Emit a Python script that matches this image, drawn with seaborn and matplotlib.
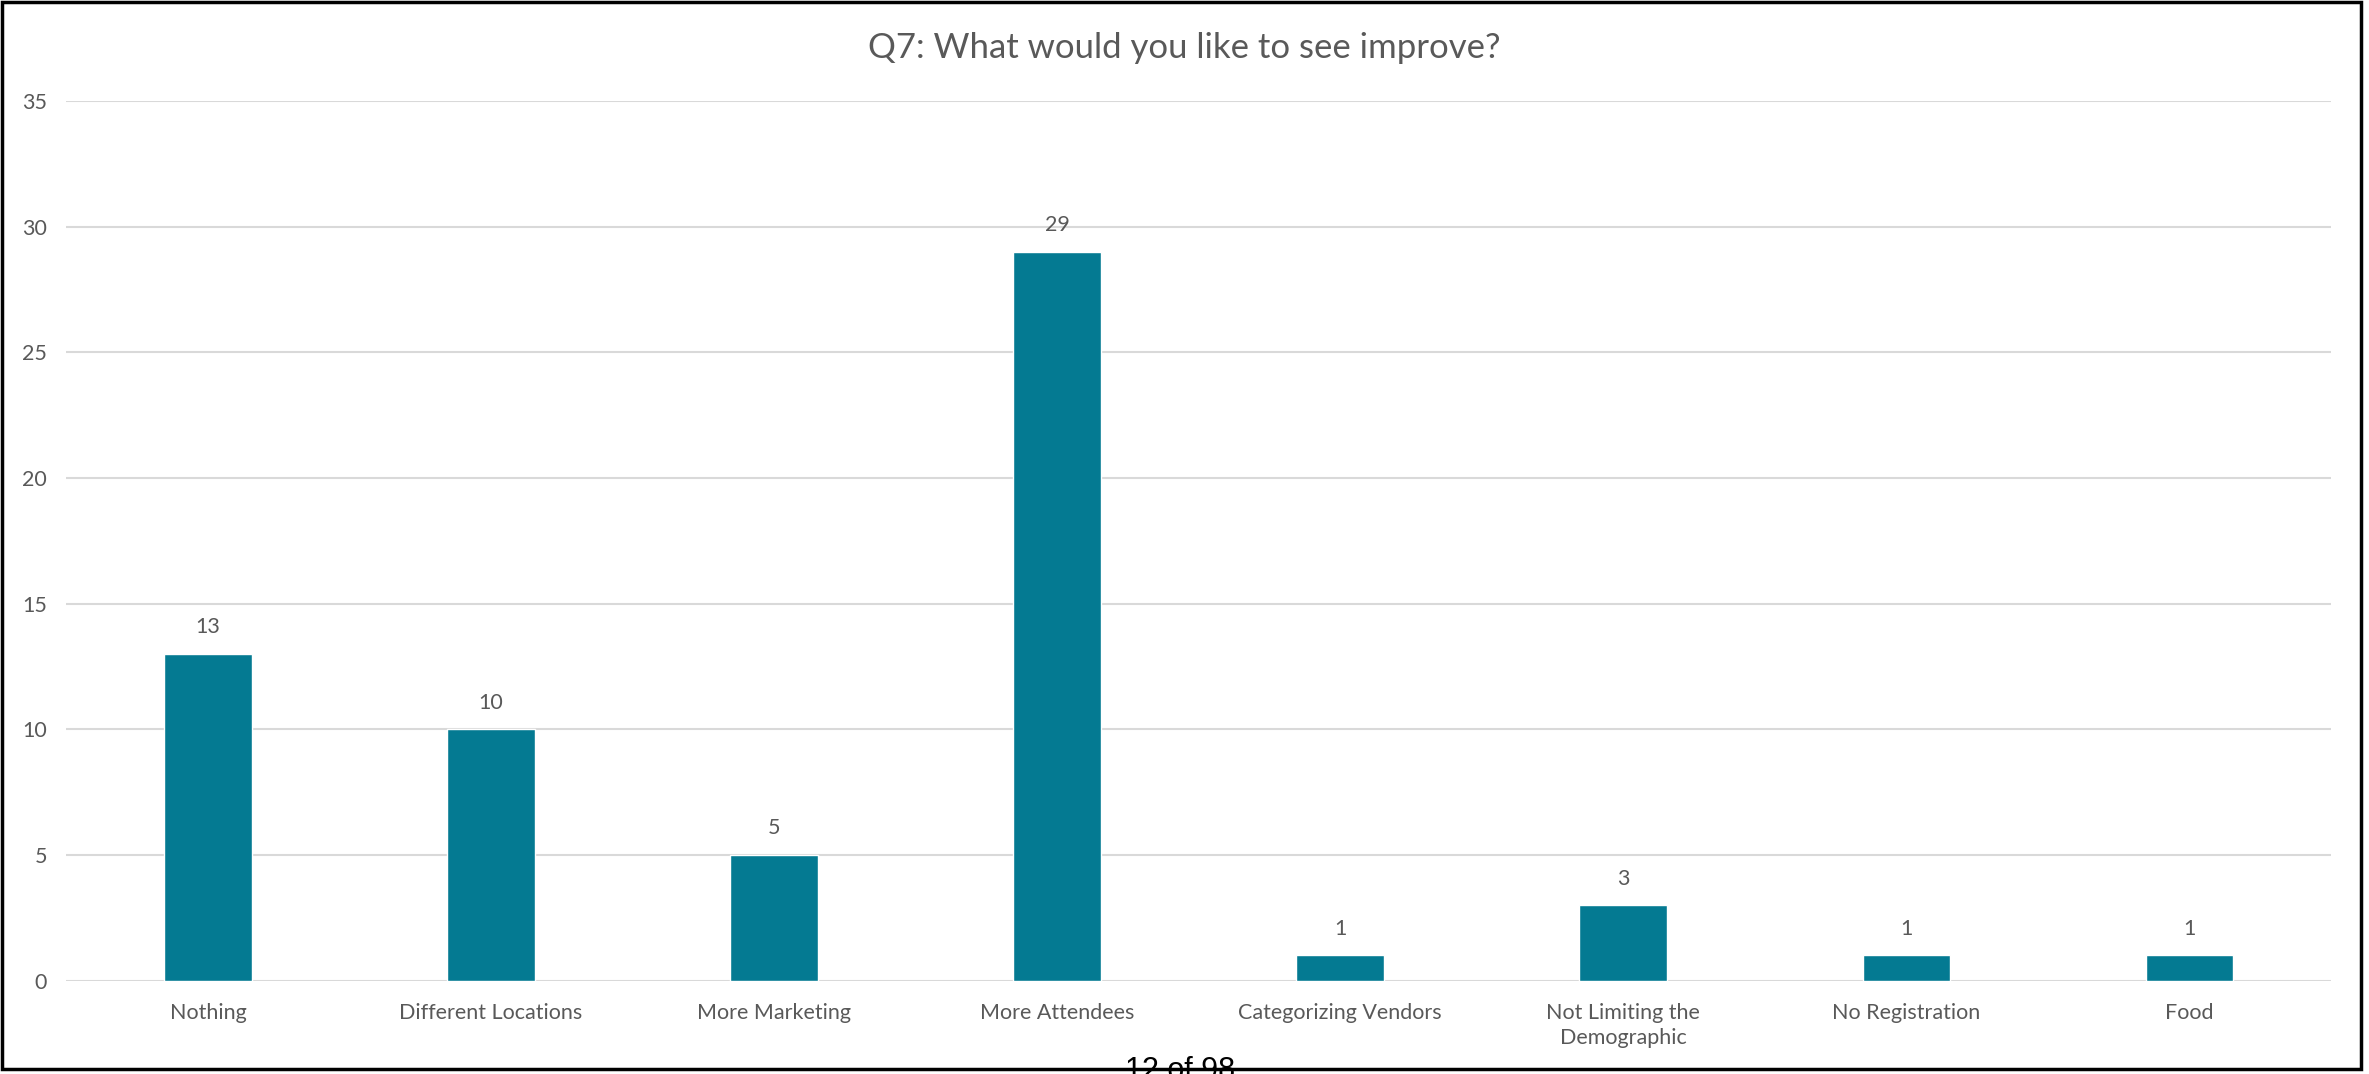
import matplotlib
matplotlib.use("Agg")
import matplotlib.pyplot as plt
import seaborn as sns
import pandas as pd
from matplotlib.patches import Rectangle

# chart data
categories = ["Nothing", "Different Locations", "More Marketing", "More Attendees",
              "Categorizing Vendors", "Not Limiting the\nDemographic", "No Registration", "Food"]
counts = [13, 10, 5, 29, 1, 3, 1, 1]
y_ticks = [0, 5, 10, 15, 20, 25, 30, 35]

df = pd.DataFrame({"answer": categories, "count": counts})

sns.set_theme(style="white")
plt.rcParams['font.family'] = ['Lato', 'DejaVu Sans']

text_col = "#595959"
bar_col = "#047A92"

fig = plt.figure(figsize=(23.69, 10.74), dpi=100)
ax = fig.add_axes([0.028, 0.087, 0.956, 0.819])

sns.barplot(data=df, x="answer", y="count", color=bar_col, width=0.31,
            saturation=1, ax=ax, zorder=3)

ax.set_ylim(0, 35)
ax.set_xlim(-0.5, len(categories) - 0.5)
ax.set_yticks(y_ticks)
ax.yaxis.grid(True, color="#D9D9D9", linewidth=1.5, zorder=0)
ax.xaxis.grid(False)
for s in ax.spines.values():
    s.set_visible(False)
ax.tick_params(axis="both", length=0, labelsize=15.5, colors=text_col, pad=16)
ax.tick_params(axis="y", pad=14)
for lbl in ax.get_xticklabels():
    lbl.set_linespacing(1.35)
ax.set_xlabel("")
ax.set_ylabel("")

ax.bar_label(ax.containers[0], labels=[str(v) for v in counts], padding=12,
             fontsize=15.5, color=text_col)

fig.text(0.5, 0.955, "Q7: What would you like to see improve?", ha="center", va="center",
         fontsize=25, color=text_col)

# page footer, cut off by the frame
fig.text(0.498, 0.017, "12 of 98", ha="center", va="top", fontsize=22,
         color="black", family=["Liberation Sans", "DejaVu Sans"])

fig.patches.append(Rectangle((0.0008, 0.005), 0.9957, 0.993, transform=fig.transFigure,
                             fill=False, edgecolor="black", linewidth=2.5, zorder=10))

fig.savefig("out.png", dpi=100)
